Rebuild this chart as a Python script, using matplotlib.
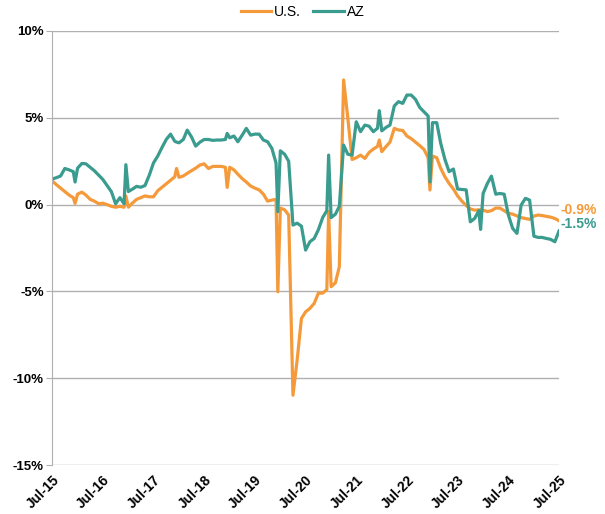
# 雇用の前年比推移 U.S. と AZ を1枚に描く
import numpy as np
import pandas as pd
import matplotlib.pyplot as plt
from matplotlib.ticker import FuncFormatter

plt.rcParams['font.family'] = ['Liberation Sans', 'DejaVu Sans']

# 月次データ Jul-15 ～ Jul-25 (%)
start = '2015-07-01'
end = '2025-07-01'
us_values = [1.37, 1.15, 0.95, 0.75, 0.55, 0.4,
             0.6, 0.72, 0.55, 0.3, 0.2, 0.05,
             0.08, 0.0, -0.1, -0.15, -0.1, -0.15,
             -0.15, 0.1, 0.3, 0.4, 0.5, 0.45,
             0.45, 0.8, 1.0, 1.2, 1.4, 1.6,
             1.57, 1.65, 1.8, 1.95, 2.1, 2.28,
             2.35, 2.08, 2.2, 2.2, 2.2, 2.15,
             2.15, 2.0, 1.75, 1.5, 1.3, 1.07,
             0.95, 0.85, 0.6, 0.2, 0.26, 0.3,
             -0.2, -0.3, -0.6, -10.98, -8.96, -6.56,
             -6.18, -5.98, -5.69, -5.1, -5.1, -4.9,
             -4.73, -4.5, -3.58, 7.18, 5.0, 2.6,
             2.7, 2.85, 2.66, 3.0, 3.2, 3.35,
             3.05, 3.35, 3.6, 4.39, 4.3, 4.27,
             3.95, 3.8, 3.6, 3.4, 3.18, 2.7,
             2.8, 2.7, 2.1, 1.6, 1.22, 0.9,
             0.5, 0.2, -0.05, -0.25, -0.32, -0.3,
             -0.32, -0.4, -0.35, -0.2, -0.2, -0.35,
             -0.5, -0.55, -0.65, -0.75, -0.8, -0.85,
             -0.66, -0.6, -0.63, -0.68, -0.72, -0.8,
             -0.93]
az_values = [1.47, 1.55, 1.65, 2.08, 2.0, 1.9,
             2.1, 2.37, 2.35, 2.15, 1.95, 1.7,
             1.45, 1.1, 0.74, 0.05, 0.4, 0.05,
             0.75, 0.9, 1.05, 1.0, 1.1, 1.7,
             2.4, 2.8, 3.3, 3.75, 4.06, 3.65,
             3.56, 3.75, 4.29, 3.9, 3.37, 3.6,
             3.75, 3.75, 3.7, 3.72, 3.72, 3.75,
             3.85, 3.95, 3.62, 4.0, 4.39, 4.0,
             4.06, 4.06, 3.72, 3.62, 3.24, 2.4,
             3.1, 2.9, 2.5, -1.18, -1.07, -1.24,
             -2.62, -2.14, -1.95, -1.45, -0.75, -0.35,
             -0.75, -0.55, -0.1, 3.43, 2.9, 2.85,
             4.77, 4.2, 4.58, 4.52, 4.2, 4.4,
             4.25, 4.45, 4.58, 5.68, 5.93, 5.83,
             6.31, 6.31, 6.06, 5.6, 5.35, 5.1,
             4.72, 4.72, 3.55, 2.6, 1.9, 2.05,
             0.9, 0.87, 0.85, -0.99, -0.8, -0.35,
             0.64, 1.22, 1.64, 0.6, 0.64, 0.6,
             -0.6, -1.37, -1.66, -0.03, 0.36, 0.26,
             -1.82, -1.89, -1.89, -1.95, -2.0, -2.14,
             -1.52]

# 年初の不連続点（ベンチマーク改定）
spike_years = [2016, 2017, 2018, 2019, 2020, 2021, 2022, 2023, 2024]
us_spike = [0.07, 0.5, 2.08, 0.99, -5.02, -0.4, 3.72, 0.84, -0.3]
az_spike = [1.3, 2.3, 3.6, 4.1, -0.41, 2.85, 5.41, 1.31, -1.43]

orange = '#F59A3A'
teal = '#3A9B8F'

months = pd.date_range(start, end, freq='MS')
spike_dates = [pd.Timestamp(y - 1, 12, 14) for y in spike_years]

us = pd.concat([pd.Series(us_values, index=months),
                pd.Series(us_spike, index=spike_dates)]).sort_index()
az = pd.concat([pd.Series(az_values, index=months),
                pd.Series(az_spike, index=spike_dates)]).sort_index()

fig = plt.figure(figsize=(6.05, 5.14), dpi=100)
ax = fig.add_axes([0.086, 0.0953, 0.838, 0.8444])

ax.plot(us.index, us.values, color=orange, lw=2.3, label='U.S.')
ax.plot(az.index, az.values, color=teal, lw=2.3, label='AZ')

ax.set_ylim(-15, 10)
ax.set_yticks(np.arange(-15, 11, 5))
ax.yaxis.set_major_formatter(FuncFormatter(lambda v, p: f'{v:.0f}%'))
ax.set_xlim(months[0], months[-1])

ticks = pd.date_range(start, end, freq='12MS')
ax.set_xticks(ticks)
ax.set_xticklabels([d.strftime('%b-%y') for d in ticks], rotation=45,
                   ha='right', rotation_mode='anchor', fontweight='bold', fontsize=10)
for lab in ax.get_yticklabels():
    lab.set_fontweight('bold')
    lab.set_fontsize(9.5)

ax.grid(axis='y', color='#b0b0b0', lw=1)
ax.set_axisbelow(True)
for s in ['top', 'right', 'bottom']:
    ax.spines[s].set_visible(False)
ax.spines['left'].set_color('#b0b0b0')
ax.tick_params(axis='y', length=4, color='#b0b0b0', pad=2)
ax.tick_params(axis='x', length=0, pad=6)

# 最新値のラベル
ax.annotate(f'{us_values[-1]:.1f}%', xy=(months[-1], us_values[-1]), xytext=(1, 8),
            textcoords='offset points', color=orange, fontweight='bold',
            fontsize=10, va='center', ha='left', annotation_clip=False)
ax.annotate(f'{az_values[-1]:.1f}%', xy=(months[-1], az_values[-1]), xytext=(1, 5),
            textcoords='offset points', color=teal, fontweight='bold',
            fontsize=10, va='center', ha='left', annotation_clip=False)

fig.legend(loc='center', bbox_to_anchor=(0.5, 0.977), ncol=2, frameon=False,
           fontsize=10, handlelength=2.2, handletextpad=0.2, columnspacing=0.9)

fig.savefig('out.png', dpi=100)
